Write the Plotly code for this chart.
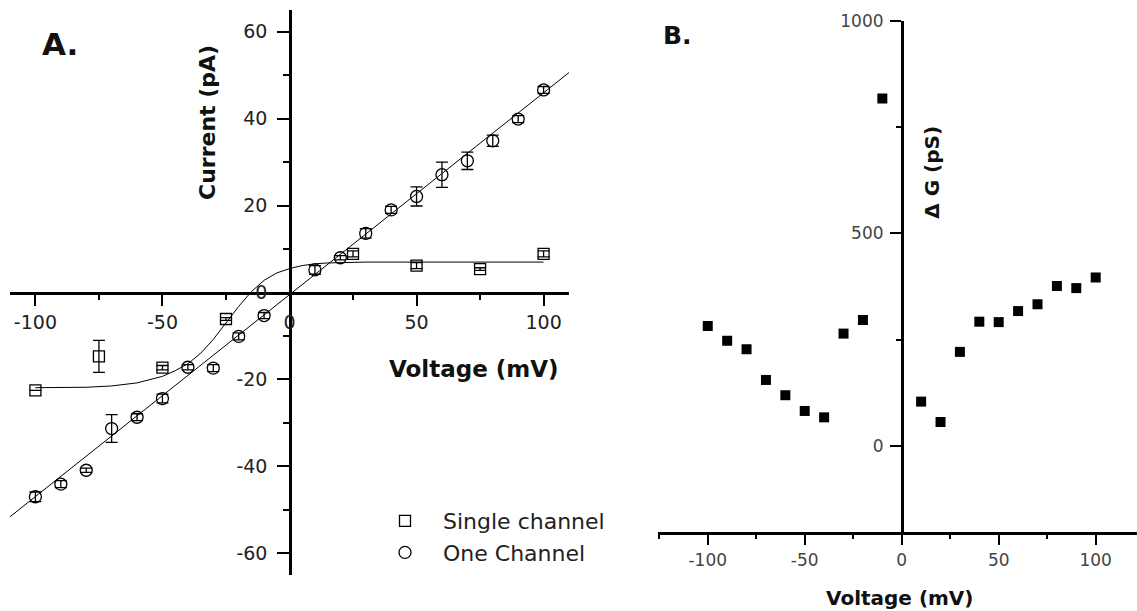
import plotly.graph_objects as go

# ---------------- Panel A data ----------------
one_v = [-100, -90, -80, -70, -60, -50, -40, -30, -20, -10, 10, 20, 30, 40, 50, 60, 70, 80, 90, 100]
one_i = [-47.0, -44.1, -40.9, -31.3, -28.7, -24.4, -17.2, -17.4, -10.1, -5.3,
         5.2, 8.0, 13.6, 19.0, 22.1, 27.1, 30.3, 34.9, 39.9, 46.6]
one_err = [1.1, 0.8, 0.5, 3.2, 0.8, 1.0, 0.6, 0.8, 0.8, 0.7,
           1.0, 0.5, 1.1, 0.8, 2.2, 2.9, 2.0, 1.3, 0.8, 0.8]

single_v = [-100, -75, -50, -25, 25, 50, 75, 100]
single_i = [-22.5, -14.7, -17.3, -6.1, 8.9, 6.2, 5.4, 8.9]
single_err = [0.0, 3.7, 0.5, 0.3, 0.7, 0.7, 0.3, 0.7]

# fitted curves
fit_one_v = [-110, 110]
fit_one_i = [-51.6, 50.6]
fit_single_v = [-100, -90, -80, -70, -60, -50, -45, -40, -35, -30, -25, -20, -15,
                -10, -5, 0, 5, 10, 15, 20, 30, 50, 75, 100]
fit_single_i = [-21.9, -21.9, -21.8, -21.5, -20.8, -19.3, -18.0, -16.4, -14.0, -10.8,
                -7.0, -3.2, 0.2, 2.8, 4.5, 5.5, 6.2, 6.6, 6.8, 6.9, 7.0, 7.0, 7.0, 7.0]

a_xticks = [-100, -50, 0, 50, 100]
a_xticktext = ["-100", "-50", "0", "50", "100"]
a_yticks = [-60, -40, -20, 0, 20, 40, 60]
a_yticktext = ["-60", "-40", "-20", "0", "20", "40", "60"]

# ---------------- Panel B data ----------------
dg_v = [-100, -90, -80, -70, -60, -50, -40, -30, -20, -10,
        10, 20, 30, 40, 50, 60, 70, 80, 90, 100]
dg_g = [282, 247, 227, 155, 119, 82, 67, 264, 296, 817,
        104, 56, 221, 292, 291, 317, 333, 376, 371, 396]

b_xticks = [-100, -50, 0, 50, 100]
b_xticktext = ["-100", "-50", "0", "50", "100"]
b_yticks = [0, 500, 1000]
b_yticktext = ["0", "500", "1000"]

W, H = 1137, 611
FONT = "DejaVu Sans"

def px(x):
    return x / W

def py(y):
    return 1 - y / H

fig = go.Figure()

fig.add_trace(go.Scatter(x=fit_single_v, y=fit_single_i, mode="lines",
                         line=dict(color="black", width=1), showlegend=False,
                         xaxis="x", yaxis="y"))
fig.add_trace(go.Scatter(x=fit_one_v, y=fit_one_i, mode="lines",
                         line=dict(color="black", width=1), showlegend=False,
                         xaxis="x", yaxis="y"))
fig.add_trace(go.Scatter(x=single_v, y=single_i, mode="markers", name="Single channel",
                         marker=dict(symbol="square-open", size=11, color="black",
                                     line=dict(width=1.3)),
                         error_y=dict(type="data", array=single_err, color="black",
                                      thickness=1.3, width=6),
                         xaxis="x", yaxis="y"))
fig.add_trace(go.Scatter(x=one_v, y=one_i, mode="markers", name="One Channel",
                         marker=dict(symbol="circle-open", size=12, color="black",
                                     line=dict(width=1.3)),
                         error_y=dict(type="data", array=one_err, color="black",
                                      thickness=1.3, width=6),
                         xaxis="x", yaxis="y"))
fig.add_trace(go.Scatter(x=dg_v, y=dg_g, mode="markers", showlegend=False,
                         marker=dict(symbol="square", size=10, color="black"),
                         xaxis="x2", yaxis="y2"))

axis_common = dict(showgrid=False, zeroline=False, showline=True, linecolor="black",
                   linewidth=2.5, ticks="outside", tickcolor="black", tickwidth=2,
                   automargin=False, mirror=False)

fig.update_layout(
    width=W, height=H, autosize=False,
    margin=dict(l=0, r=0, t=0, b=0),
    paper_bgcolor="white", plot_bgcolor="white",
    font=dict(family=FONT, color="#222"),
    xaxis=dict(domain=[px(10), px(569)], range=[-110, 110], anchor="free",
               position=py(292.5), tickvals=a_xticks, ticktext=a_xticktext,
               ticklen=12, minor=dict(dtick=25, tick0=0, ticklen=6, tickwidth=2,
                                      tickcolor="black", ticks="outside"),
               tickfont=dict(size=19, color="#222"), **axis_common),
    yaxis=dict(domain=[py(575), py(10)], range=[-65, 65], anchor="free",
               position=px(290), tickvals=a_yticks, ticktext=a_yticktext,
               ticklen=12, ticklabelstandoff=6,
               minor=dict(dtick=10, tick0=0, ticklen=6, tickwidth=2,
                          tickcolor="black", ticks="outside"),
               tickfont=dict(size=19, color="#222"), **axis_common),
    xaxis2=dict(domain=[px(658.3), 1.0], range=[-125.5, 121.3], anchor="y2",
                side="bottom", tickvals=b_xticks, ticktext=b_xticktext,
                ticklen=11, minor=dict(dtick=25, tick0=0, ticklen=5, tickwidth=2,
                                       tickcolor="black", ticks="outside"),
                tickfont=dict(size=17, color="#444"), **axis_common),
    yaxis2=dict(domain=[py(531.7), py(20.7)], range=[-202, 1000], anchor="free",
                position=px(901.7), tickvals=b_yticks, ticktext=b_yticktext,
                ticklen=11, ticklabelstandoff=3,
                minor=dict(dtick=250, tick0=0, ticklen=5, tickwidth=2,
                           tickcolor="black", ticks="outside"),
                tickfont=dict(size=17, color="#444"), **axis_common),
    legend=dict(x=px(367), y=py(500), xanchor="left", yanchor="top",
                bgcolor="rgba(0,0,0,0)", font=dict(family=FONT, size=22, color="#222"),
                itemwidth=66, tracegroupgap=0),
)

annots = [
    dict(text="<b>A.</b>", x=px(60), y=py(44), size=31),
    dict(text="<b>B.</b>", x=px(677), y=py(36), size=25),
    dict(text="<b>Current (pA)</b>", x=px(208), y=py(123), size=22, angle=-90),
    dict(text="<b>Voltage (mV)</b>", x=px(474), y=py(369), size=23),
    dict(text="<b>\u0394 G (pS)</b>", x=px(931.7), y=py(172), size=20, angle=-90),
    dict(text="<b>Voltage (mV)</b>", x=px(900), y=py(598), size=20),
]
for a in annots:
    fig.add_annotation(text=a["text"], x=a["x"], y=a["y"], xref="paper", yref="paper",
                       xanchor="center", yanchor="middle", showarrow=False,
                       textangle=a.get("angle", 0),
                       font=dict(family=FONT, size=a["size"], color="#111"))

fig.write_html("out.html")
